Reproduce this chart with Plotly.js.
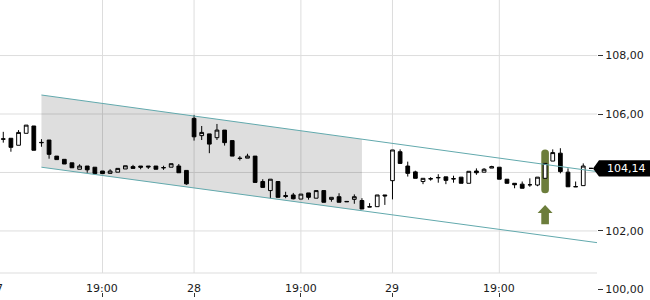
<!DOCTYPE html>
<html><head><meta charset="utf-8">
<script src="https://cdn.plot.ly/plotly-3.0.1.min.js"></script>
<style>html,body{margin:0;padding:0;background:#fff;}#chart{width:650px;height:300px;}</style>
</head><body><div id="chart"></div>
<script>
// ---- data ----
const candleIndex = [0,1,2,3,4,5,6,7,8,9,10,11,12,13,14,15,16,17,18,19,20,21,22,23,24,25,26,27,28,29,30,31,32,33,34,35,36,37,38,39,40,41,42,43,44,45,46,47,48,49,50,51,52,53,54,55,56,57,58,59,60,61,62,63,64,65,66,67,68,69,70,71,72,73,74,75,76,77];
const openVals = [105.15,105.17,104.93,105.34,105.59,105.03,105.11,104.56,104.45,104.33,104.11,104.22,104.18,104.05,103.97,104.01,104.12,104.20,104.22,104.22,104.22,104.17,104.18,104.22,104.07,105.85,105.26,105.32,105.19,105.45,105.09,104.49,104.49,104.56,103.69,103.38,103.69,103.21,103.23,103.09,103.30,103.12,103.38,103.08,103.17,103.01,103.08,103.04,102.83,102.83,103.23,103.72,104.71,104.22,104.02,103.69,103.79,103.83,103.85,103.79,103.84,103.63,104.05,104.01,104.15,104.18,103.77,103.63,103.60,103.58,103.57,103.80,104.39,104.66,104.01,103.52,103.55,104.14];
const highVals = [105.39,105.17,105.45,105.62,105.59,105.14,105.11,104.56,104.45,104.33,104.28,104.22,104.18,104.05,104.11,104.14,104.23,104.26,104.22,104.22,104.22,104.23,104.30,104.29,104.07,105.97,105.59,105.32,105.66,105.45,105.09,104.56,104.64,104.56,103.77,103.77,103.69,103.34,103.30,103.26,103.30,103.38,103.38,103.15,103.29,103.01,103.25,103.12,102.95,103.23,103.23,104.77,104.79,104.37,104.06,103.80,103.84,103.94,103.85,103.89,103.84,104.04,104.14,104.15,104.23,104.18,103.77,103.63,103.69,103.80,103.84,104.31,104.79,104.83,104.14,103.69,104.31,104.14];
const lowVals = [105.02,104.71,104.93,105.34,104.76,104.88,104.47,104.44,104.29,104.16,104.11,103.99,103.96,103.96,103.97,104.01,104.12,104.14,104.11,104.12,104.11,104.09,104.18,103.99,103.58,105.09,105.11,104.66,105.11,104.92,104.56,104.41,104.49,103.66,103.49,103.12,103.15,103.12,103.08,103.09,103.07,103.12,102.98,103.00,102.98,103.00,102.93,102.75,102.82,102.83,102.89,103.08,104.31,103.86,103.80,103.60,103.72,103.65,103.60,103.65,103.63,103.63,103.92,104.01,104.15,103.77,103.63,103.46,103.46,103.51,103.53,103.80,104.39,103.97,103.51,103.51,103.55,104.14];
const closeVals = [105.14,104.86,105.37,105.62,104.76,105.02,104.62,104.44,104.29,104.16,104.22,104.09,103.96,103.96,104.05,104.14,104.23,104.14,104.18,104.19,104.11,104.16,104.30,103.99,103.61,105.22,105.37,104.97,105.45,105.02,104.56,104.48,104.56,103.66,103.49,103.77,103.15,103.18,103.10,103.26,103.15,103.38,102.98,103.15,102.98,103.00,103.17,102.75,102.82,103.23,103.20,104.77,104.31,103.97,103.80,103.80,103.78,103.82,103.73,103.78,103.63,104.04,103.99,104.11,104.20,103.77,103.63,103.58,103.46,103.58,103.84,104.31,104.68,104.03,103.51,103.51,104.22,104.14];

const tickIdx = [-1,13,25,39,51,65];
const tickText = ['27','19:00','28','19:00','29','19:00'];
const priceTicks = [100,102,106,108];
const gridPrices = [102,104,106,108];

// trend channel
const channelX = [5,77.8];
const channelTop = [106.65,104.03];
const channelBottom = [104.18,101.60];
const shadeX = [5,47];
const shadeTop = [106.65,105.14];
const shadeBottom = [104.18,102.68];

// signal candle
const signalIdx = 71;
const signalHigh = 104.79;
const signalLow = 103.29;
const arrowTop = 102.89;
const arrowNeck = 102.61;
const arrowBase = 102.23;

const lastPrice = 104.14;

// ---- build ----
const xRange = [-0.43,77.8];
const yRange = [99.74,109.90];
const gridColor = '#dddddd';
const olive = '#6c7d3b';
const pw = 597;
const toPaperX = v => (v - xRange[0]) / (xRange[1] - xRange[0]);

const traces = [];
traces.push({
  type:'scatter', mode:'lines', hoverinfo:'skip',
  x:[shadeX[0],shadeX[1],shadeX[1],shadeX[0],shadeX[0]],
  y:[shadeTop[0],shadeTop[1],shadeBottom[1],shadeBottom[0],shadeTop[0]],
  fill:'toself', fillcolor:'rgba(0,0,0,0.13)', line:{width:0}
});
traces.push({type:'scatter',mode:'lines',hoverinfo:'skip',x:channelX,y:channelTop,line:{color:'#62a9ad',width:1}});
traces.push({type:'scatter',mode:'lines',hoverinfo:'skip',x:channelX,y:channelBottom,line:{color:'#62a9ad',width:1}});
traces.push({
  type:'candlestick', x:candleIndex, open:openVals, high:highVals, low:lowVals, close:closeVals,
  increasing:{line:{color:'#000',width:1},fillcolor:'#ffffff'},
  decreasing:{line:{color:'#000',width:1},fillcolor:'#000000'},
  whiskerwidth:0, hoverinfo:'skip'
});

const sepY = (297-273)/297;
const shapes = [];
tickIdx.forEach(v=>shapes.push({type:'line',xref:'x',yref:'paper',x0:v,x1:v,y0:sepY,y1:1,line:{color:gridColor,width:1},layer:'below'}));
gridPrices.forEach(v=>shapes.push({type:'line',xref:'paper',yref:'y',x0:0,x1:1,y0:v,y1:v,line:{color:gridColor,width:1},layer:'below'}));
shapes.push({type:'line',xref:'paper',yref:'paper',x0:0,x1:1,y0:sepY,y1:sepY,line:{color:gridColor,width:1},layer:'below'});

// highlight rounded rect
const hx0 = signalIdx-0.5, hx1 = signalIdx+0.5, ry = 0.12, rx = 0.5;
shapes.push({type:'path',xref:'x',yref:'y',layer:'below',fillcolor:olive,line:{width:0},
  path:`M ${hx0},${signalLow+ry} L ${hx0},${signalHigh-ry} Q ${hx0},${signalHigh} ${hx0+rx},${signalHigh} Q ${hx1},${signalHigh} ${hx1},${signalHigh-ry} L ${hx1},${signalLow+ry} Q ${hx1},${signalLow} ${hx1-rx},${signalLow} Q ${hx0},${signalLow} ${hx0},${signalLow+ry} Z`});
// arrow
const ah = 0.98, as = 0.5;
shapes.push({type:'path',xref:'x',yref:'y',layer:'above',fillcolor:olive,line:{width:0},
  path:`M ${signalIdx},${arrowTop} L ${signalIdx+ah},${arrowNeck} L ${signalIdx+as},${arrowNeck} L ${signalIdx+as},${arrowBase} L ${signalIdx-as},${arrowBase} L ${signalIdx-as},${arrowNeck} L ${signalIdx-ah},${arrowNeck} Z`});
// price tag
const th = 0.28;
shapes.push({type:'path',xref:'paper',yref:'y',layer:'above',fillcolor:'#000',line:{width:0},
  path:`M ${593/pw},${lastPrice} L ${599/pw},${lastPrice+th} L ${652/pw},${lastPrice+th} L ${652/pw},${lastPrice-th} L ${599/pw},${lastPrice-th} Z`});

const annotations = [
  {xref:'paper',yref:'y',x:626/pw,y:lastPrice,text:lastPrice.toFixed(2).replace('.',','),showarrow:false,
   font:{family:'DejaVu Sans',size:11,color:'#fff'},xanchor:'center',yanchor:'middle'}
];
// x tick labels (drawn inside the bottom strip)
tickIdx.forEach((v,k)=>annotations.push({xref:'paper',yref:'paper',x:toPaperX(v),y:(297-288)/297,text:tickText[k],
  showarrow:false,font:{family:'DejaVu Sans',size:11,color:'#1a1a1a'},xanchor:'center',yanchor:'middle'}));

const layout = {
  width:650, height:300,
  margin:{l:0,r:53,t:0,b:3,pad:0},
  paper_bgcolor:'#fff', plot_bgcolor:'#fff',
  showlegend:false, separators:',.',
  font:{family:'DejaVu Sans',size:11,color:'#1a1a1a'},
  xaxis:{range:xRange,tickvals:tickIdx,ticktext:tickText,ticks:'inside',ticklen:4,tickcolor:'#333',
    showticklabels:false,showgrid:false,zeroline:false,showline:false,rangeslider:{visible:false},fixedrange:true},
  yaxis:{side:'right',range:yRange,tickvals:priceTicks,tickformat:'.2f',ticks:'outside',ticklen:5,tickcolor:'#333',
    showgrid:false,zeroline:false,showline:false,fixedrange:true},
  shapes:shapes, annotations:annotations, hovermode:false
};
Plotly.newPlot('chart',traces,layout,{staticPlot:true,displayModeBar:false});
</script></body></html>
